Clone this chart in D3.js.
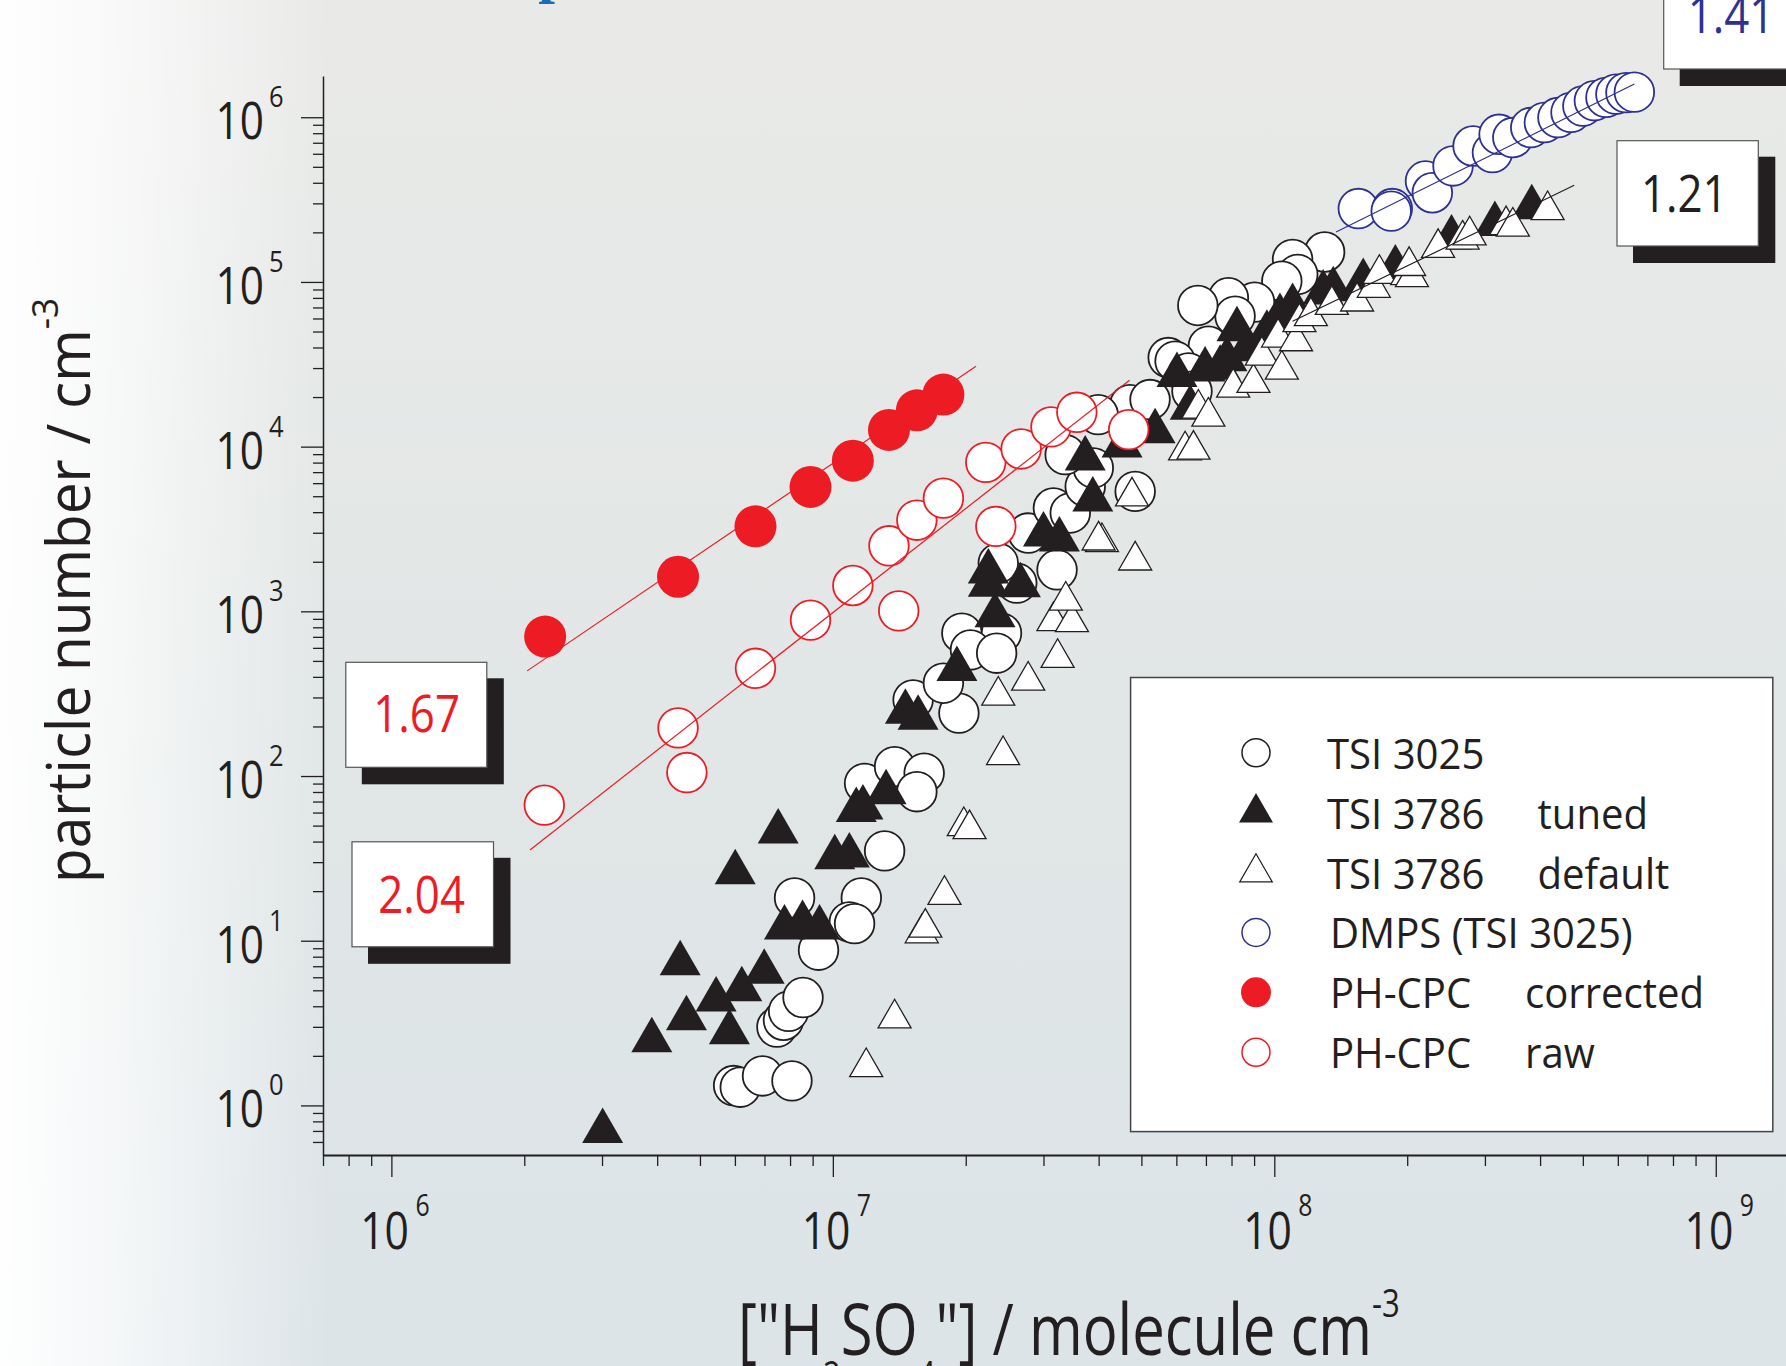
<!DOCTYPE html>
<html>
<head>
<meta charset="utf-8">
<script src="https://cdn.jsdelivr.net/npm/d3@7"></script>
<style>
html,body{margin:0;padding:0;background:#fff;}
svg{display:block;font-family:'Open Sans','Noto Sans',sans-serif;}
</style>
</head>
<body>
<svg id="chart" width="1786" height="1366"></svg>
<script>
// ---------------- DATA ----------------
// [H2SO4] (molecule cm^-3), particle number (cm^-3)
const tsi3025 = [
  [5.96e6,1.32],[6.17e6,1.29],[6.93e6,1.51],[8.08e6,1.41],
  [7.47e6,2.99],[7.73e6,3.29],[7.94e6,3.73],[8.56e6,4.52],
  [9.28e6,8.76],[8.19e6,18.2],[1.16e7,18.2],[1.09e7,13.0],[1.12e7,12.7],
  [1.31e7,35.1],[1.18e7,90.3],[1.38e7,114],[1.61e7,104],[1.55e7,80.3],
  [1.52e7,290],[1.93e7,241],[1.78e7,366],[1.96e7,737],[2.41e7,737],[2.05e7,583],[2.35e7,557],
  [2.61e7,1484],[3.22e7,1788],[2.37e7,1963],[2.77e7,2988],[3.16e7,4240],[3.45e7,3955],
  [3.73e7,5737],[3.89e7,7421],[3.36e7,8943],[4.71e7,18000],[5.23e7,19310],[6.17e7,29380],
  [4.84e7,5350],[3.99e7,15650],[5.75e7,34750],[1.30e8,1.52e5],[1.10e8,1.37e5],[1.13e8,1.11e5],
  [1.04e8,1.01e5],[9.02e7,75400],[7.87e7,80150],[8.15e7,61950],[6.71e7,71950],[7.09e7,40710],
  [5.96e7,33000],[6.39e7,28050],[6.51e7,21690]
];
const tsi3786Tuned = [
  [3.01e6,0.698],[3.89e6,2.48],[4.66e6,3.38],[4.51e6,7.27],[5.44e6,4.39],[5.83e6,2.78],[6.22e6,5.07],[6.99e6,6.46],
  [6.01e6,26.0],[7.52e6,45.9],[7.77e6,12.0],[8.54e6,12.8],[9.33e6,12.0],[1.01e7,32.0],[1.09e7,32.8],
  [1.13e7,62.1],[1.17e7,64.2],[1.32e7,79.6],
  [1.46e7,245],[1.56e7,225],[1.91e7,445],[2.25e7,1739],[2.25e7,1449],[2.33e7,944],[2.66e7,1437],
  [3.00e7,2917],[3.26e7,2720],[3.88e7,4762],[3.73e7,8453],[4.52e7,10140],[5.37e7,12390],
  [6.02e7,27130],[6.45e7,17190],[7.54e7,30090],[6.97e7,29380],[7.81e7,33800],[8.23e7,51430],[8.66e7,38880],
  [9.62e7,49110],[1.03e8,61950],[1.10e8,71260],[1.29e8,85960],[1.36e8,90030],[1.59e8,1.01e5],
  [1.88e8,1.22e5],[2.52e8,1.86e5],[3.16e8,2.24e5],[3.83e8,2.83e5]
];
const tsi3786Default = [
  [1.19e7,1.71],[1.38e7,3.38],[1.59e7,11.1],[1.62e7,12.0],[1.79e7,19.0],[1.98e7,49.7],[2.04e7,47.6],
  [2.43e7,134],[2.37e7,308],[2.77e7,380],[3.23e7,522],[3.16e7,872],[3.48e7,860],[3.37e7,1163],
  [4.84e7,2036],[4.07e7,2634],[4.00e7,2694],[4.76e7,4988],[6.28e7,9495],[6.56e7,9590],[6.73e7,17020],
  [7.09e7,15220],[8.07e7,22840],[8.97e7,24390],[9.37e7,35740],[1.04e8,29380],[1.02e8,45980],[1.12e8,43660],
  [1.14e8,56970],[1.21e8,61950],[1.35e8,72670],[1.54e8,76110],[1.68e8,92200],[1.73e8,1.12e5],
  [2.00e8,1.10e5],[2.05e8,1.07e5],[2.02e8,1.25e5],[2.35e8,1.61e5],[2.67e8,1.81e5],[2.77e8,1.92e5],
  [3.35e8,2.21e5],[3.47e8,2.17e5],[4.16e8,2.73e5]
];
const dmps = [
  [1.55e8,2.79e5],[1.85e8,2.79e5],[1.84e8,2.69e5],[2.20e8,4.10e5],[2.28e8,3.48e5],[2.54e8,5.06e5],
  [2.82e8,6.69e5],[3.12e8,6.10e5],[3.23e8,7.88e5],[3.47e8,7.53e5],[3.81e8,8.66e5],[4.09e8,9.29e5],
  [4.39e8,9.96e5],[4.70e8,1.07e6],[5.00e8,1.17e6],[5.31e8,1.26e6],[5.64e8,1.32e6],[5.94e8,1.38e6],
  [6.26e8,1.41e6],[6.54e8,1.42e6]
];
const phcpcRaw = [
  [2.22e6,66.6],[4.46e6,196],[4.67e6,105],[6.68e6,451],[8.90e6,884],[1.11e7,1435],[1.34e7,2500],
  [1.41e7,1007],[1.55e7,3575],[1.78e7,4865],[2.22e7,8030],[2.34e7,3280],[2.67e7,9680],[3.12e7,13180],
  [3.57e7,16160],[4.68e7,12690]
];
const phcpcCorrected = [
  [2.23e6,703],[4.46e6,1622],[6.68e6,3280],[8.90e6,5690],[1.11e7,8220],[1.34e7,12630],[1.55e7,16620],[1.78e7,20700]
];
// fitted power-law lines (end points)
const fitCorrected = [[2.03e6,435],[2.11e7,30800]];
const fitRaw = [[2.06e6,35.6],[4.70e7,25300]];
const fitDmps = [[1.38e8,2.01e5],[6.54e8,1.59e6]];
const fitTuned = [[1.10e8,57780],[4.78e8,3.86e5]];
// slope labels
const slopeLabels = ['1.67','2.04','1.21','1.41'];
// axes
const xDomain = [7e5, 1.45e9];
const yDomain = [0.5, 1.78e6];
const xDecades = [6,7,8,9];
const yDecades = [0,1,2,3,4,5,6];
// legend
const legendCol1 = ['TSI 3025','TSI 3786','TSI 3786','DMPS (TSI 3025)','PH-CPC','PH-CPC'];
const legendCol2 = ['','tuned','default','','corrected','raw'];
const xTitle = [['["H',0],['2',1],['SO',0],['4',1],['"] / molecule cm',0],['-3',2]];
const yTitle = [['particle number / cm',0],['-3',2]];

// ---------------- STYLE ----------------
const ink = '#231f20', red = '#ed1c24', blue = '#2e3192';
const W = 1786, H = 1366;
const svg = d3.select('#chart');
const defs = svg.append('defs');

const gv = defs.append('linearGradient').attr('id','bgV').attr('x1',0).attr('y1',0).attr('x2',0).attr('y2',1);
gv.append('stop').attr('offset','0%').attr('stop-color','#e9eae8');
gv.append('stop').attr('offset','55%').attr('stop-color','#e1e6e6');
gv.append('stop').attr('offset','100%').attr('stop-color','#dce4e8');
const gh = defs.append('linearGradient').attr('id','bgH').attr('gradientUnits','userSpaceOnUse')
  .attr('x1',0).attr('y1',0).attr('x2',330).attr('y2',0);
gh.append('stop').attr('offset','0%').attr('stop-color','#ffffff').attr('stop-opacity',0.97);
gh.append('stop').attr('offset','35%').attr('stop-color','#ffffff').attr('stop-opacity',0.7);
gh.append('stop').attr('offset','100%').attr('stop-color','#ffffff').attr('stop-opacity',0);

svg.append('rect').attr('width',W).attr('height',H).attr('fill','url(#bgV)');
svg.append('rect').attr('width',W).attr('height',H).attr('fill','url(#bgH)');

// cut-off title glyph at top
svg.append('text').attr('x',555).attr('y',-9).attr('text-anchor','middle')
  .attr('font-family','Liberation Serif, serif').attr('font-weight','bold')
  .attr('font-size',60).attr('fill','#1a6db4').text('p');

function richText(parent, x, y, o, parts) {
  const g = parent.append('g');
  const t = g.append('text').attr('font-size', o.size).attr('fill', o.fill || ink)
    .attr('text-anchor', o.anchor || 'start');
  parts.forEach(p => {
    const s = t.append('tspan').text(p.t);
    if (p.size) s.attr('font-size', p.size);
    if (p.dy) s.attr('dy', p.dy);
  });
  let sx = o.sx || 1;
  if (o.fitWidth) sx = o.fitWidth / t.node().getComputedTextLength();
  g.attr('transform', `translate(${x},${y})${o.rotate ? ` rotate(${o.rotate})` : ''} scale(${sx},1)`);
  return g;
}

// ---------------- SCALES & AXES ----------------
const x = d3.scaleLog().domain(xDomain).range([323, 1787]);
const y = d3.scaleLog().domain(yDomain).range([1155, 76]);
const isMajor = v => Math.abs(Math.log10(v) - Math.round(Math.log10(v))) < 1e-6;

const xTicks = [];
for (let e = 5; e <= 9; e++) for (let m = 1; m <= 9; m++) {
  const v = m * Math.pow(10, e);
  if (v >= xDomain[0] * 0.999 && v <= xDomain[1]) xTicks.push(v);
}
const yTicks = [];
for (let e = -1; e <= 6; e++) for (let m = 1; m <= 9; m++) {
  const v = m * Math.pow(10, e);
  if (v > yDomain[0] * 1.01 && v <= yDomain[1]) yTicks.push(v);
}

const gx = svg.append('g').attr('transform','translate(0,1155)')
  .call(d3.axisBottom(x).tickValues(xTicks).tickFormat('').tickSizeOuter(0));
gx.selectAll('.tick line').attr('y2', d => isMajor(d) ? 22 : 11).attr('stroke', ink).attr('stroke-width', 1.3);
gx.select('.domain').attr('stroke', ink).attr('stroke-width', 1.8);
gx.selectAll('.tick text').remove();

const gy = svg.append('g').attr('transform','translate(323,0)')
  .call(d3.axisLeft(y).tickValues(yTicks).tickFormat('').tickSizeOuter(0));
gy.selectAll('.tick line').attr('x2', d => isMajor(d) ? -22 : -10).attr('stroke', ink).attr('stroke-width', 1.3);
gy.select('.domain').attr('stroke', ink).attr('stroke-width', 1.5);
gy.selectAll('.tick text').remove();

const labels = svg.append('g');
xDecades.forEach(e => {
  const px = x(Math.pow(10, e));
  richText(labels, px + 17.6, 1249, {size: 52, sx: 0.82, anchor: 'end'}, [{t: '10'}]);
  richText(labels, px + 24, 1216, {size: 31, sx: 0.8}, [{t: String(e)}]);
});
yDecades.forEach(e => {
  const py = y(Math.pow(10, e));
  richText(labels, 264, py + 22, {size: 51, sx: 0.83, anchor: 'end'}, [{t: '10'}]);
  richText(labels, 269, py - 10, {size: 30, sx: 0.85}, [{t: String(e)}]);
});

// axis titles
{
  const parts = [];
  let shift = 0;
  xTitle.forEach(p => {
    const target = p[1] === 1 ? 34 : (p[1] === 2 ? -38 : 0);
    const st = p[1] === 1 ? {size: 38} : (p[1] === 2 ? {size: 38} : {});
    parts.push(Object.assign({t: p[0], dy: target - shift}, st));
    shift = target;
  });
  richText(svg, 738, 1355, {size: 71, fitWidth: 662}, parts);
}
{
  const parts = [];
  let shift = 0;
  yTitle.forEach(p => {
    const target = p[1] === 2 ? -32 : 0;
    parts.push(Object.assign({t: p[0], dy: target - shift}, p[1] === 2 ? {size: 37} : {}));
    shift = target;
  });
  richText(svg, 90, 883, {size: 60, rotate: -90, fitWidth: 585}, parts);
}

// ---------------- MARKS ----------------
const plot = svg.append('g');
const triBig = d3.symbol().type(d3.symbolTriangle).size(728);
const triSmall = d3.symbol().type(d3.symbolTriangle).size(472);

plot.append('g').selectAll('circle').data(tsi3025).join('circle')
  .attr('cx', d => x(d[0])).attr('cy', d => y(d[1])).attr('r', 19.8)
  .attr('fill', '#fff').attr('stroke', ink).attr('stroke-width', 1.8);

plot.append('g').selectAll('path').data(tsi3786Tuned).join('path')
  .attr('transform', d => `translate(${x(d[0])},${y(d[1])})`).attr('d', triBig)
  .attr('fill', ink);

plot.append('g').selectAll('path').data(tsi3786Default).join('path')
  .attr('transform', d => `translate(${x(d[0])},${y(d[1])})`).attr('d', triSmall)
  .attr('fill', '#fff').attr('stroke', ink).attr('stroke-width', 1.3);

plot.append('g').selectAll('circle').data(dmps).join('circle')
  .attr('cx', d => x(d[0])).attr('cy', d => y(d[1])).attr('r', 19.8)
  .attr('fill', '#fff').attr('stroke', blue).attr('stroke-width', 1.8);

plot.append('g').selectAll('circle').data(phcpcRaw).join('circle')
  .attr('cx', d => x(d[0])).attr('cy', d => y(d[1])).attr('r', 19.8)
  .attr('fill', '#fff').attr('stroke', red).attr('stroke-width', 1.8);

plot.append('g').selectAll('circle').data(phcpcCorrected).join('circle')
  .attr('cx', d => x(d[0])).attr('cy', d => y(d[1])).attr('r', 21)
  .attr('fill', red);

const line = d3.line().x(d => x(d[0])).y(d => y(d[1]));
[[fitCorrected, red], [fitRaw, red], [fitDmps, blue], [fitTuned, ink]].forEach(([pts, c]) => {
  plot.append('path').attr('d', line(pts)).attr('fill', 'none').attr('stroke', c).attr('stroke-width', 1.2);
});

// ---------------- SLOPE BOXES ----------------
const boxStyle = [
  {x: 345.8, y: 662.3, w: 141, h: 105, tx: 416.6, ty: 732, c: red},
  {x: 352, y: 841.8, w: 141.5, h: 105, tx: 421.6, ty: 912.6, c: red},
  {x: 1617, y: 140.7, w: 141.3, h: 105.3, tx: 1684.3, ty: 211.7, c: ink},
  {x: 1663.7, y: -36, w: 141, h: 105, tx: 1731, ty: 33.3, c: blue}
];
const boxes = svg.append('g');
slopeLabels.forEach((lab, i) => {
  const b = boxStyle[i];
  boxes.append('rect').attr('x', b.x + 16).attr('y', b.y + 16).attr('width', b.w + 1).attr('height', b.h + 1).attr('fill', ink);
  boxes.append('rect').attr('x', b.x).attr('y', b.y).attr('width', b.w).attr('height', b.h)
    .attr('fill', '#fff').attr('stroke', '#555').attr('stroke-width', 1.2);
  richText(boxes, b.tx, b.ty, {size: 51, sx: 0.86, anchor: 'middle', fill: b.c}, [{t: lab}]);
});

// ---------------- LEGEND ----------------
const leg = svg.append('g');
leg.append('rect').attr('x', 1130.6).attr('y', 677.5).attr('width', 642.2).attr('height', 454.1)
  .attr('fill', '#fff').attr('stroke', '#444').attr('stroke-width', 1.5);
const legSym = [
  g => g.append('circle').attr('r', 14).attr('fill', '#fff').attr('stroke', ink).attr('stroke-width', 1.5),
  g => g.append('path').attr('d', d3.symbol().type(d3.symbolTriangle).size(500)).attr('fill', ink),
  g => g.append('path').attr('d', d3.symbol().type(d3.symbolTriangle).size(460)).attr('fill', '#fff').attr('stroke', ink).attr('stroke-width', 1.2),
  g => g.append('circle').attr('r', 14).attr('fill', '#fff').attr('stroke', blue).attr('stroke-width', 1.5),
  g => g.append('circle').attr('r', 15).attr('fill', red),
  g => g.append('circle').attr('r', 14).attr('fill', '#fff').attr('stroke', red).attr('stroke-width', 1.5)
];
const col2x = [0, 1537.5, 1537.5, 0, 1525, 1525];
legendCol1.forEach((lab, i) => {
  const cy = 752.7 + 59.9 * i;
  legSym[i](leg.append('g').attr('transform', `translate(1256,${cy})`));
  richText(leg, i >= 3 ? 1330 : 1327, cy + 16, {size: 42, sx: 0.955}, [{t: lab}]);
  if (legendCol2[i]) richText(leg, col2x[i], cy + 16, {size: 42, sx: 0.955}, [{t: legendCol2[i]}]);
});
</script>
</body>
</html>
